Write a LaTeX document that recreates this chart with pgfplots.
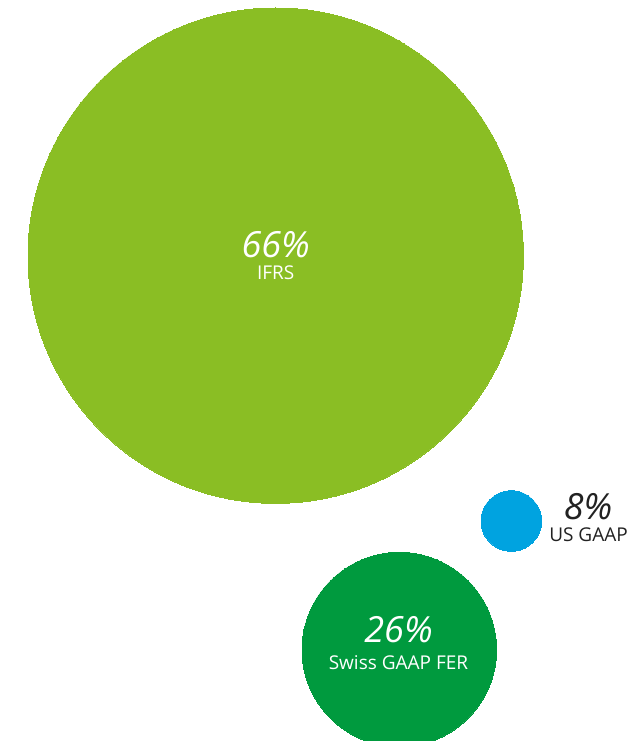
\documentclass[border=0pt]{standalone}
\usepackage{pgfplots}
\pgfplotsset{compat=1.18}
\usepackage{fontspec}
\setmainfont{Open Sans}
\definecolor{lgreen}{RGB}{138,190,36}
\definecolor{dgreen}{RGB}{0,154,62}
\definecolor{cblue}{RGB}{0,163,224}
\definecolor{dtext}{RGB}{34,34,34}
\begin{document}
\begin{tikzpicture}
\begin{axis}[
  width=644pt, height=741pt, scale only axis,
  xmin=0, xmax=644, ymin=0, ymax=741, y dir=reverse,
  hide axis, clip=true, clip marker paths=true,
  axis background/.style={fill=white},
]
% bubbles: x, y centre (px), radius set per series
\addplot[color=lgreen, only marks, mark=*, mark size=247.7pt, mark options={fill=lgreen, draw=lgreen, line width=0pt}] coordinates {(275.7,255.7)};
\addplot[color=cblue, only marks, mark=*, mark size=30.3pt, mark options={fill=cblue, draw=cblue, line width=0pt}] coordinates {(511.3,521)};
\addplot[color=dgreen, only marks, mark=*, mark size=97.3pt, mark options={fill=dgreen, draw=dgreen, line width=0pt}] coordinates {(399.3,649.6)};
\node[anchor=base, inner sep=0pt, text=white, font=\fontsize{36}{36}\selectfont\itshape] at (axis cs:275.7,257.7) {66\%};
\node[anchor=base, inner sep=0pt, text=white, font=\fontsize{19}{19}\selectfont] at (axis cs:275.7,279.3) {IFRS};
\node[anchor=base, inner sep=0pt, text=dtext, font=\fontsize{36}{36}\selectfont\itshape] at (axis cs:588,519) {8\%};
\node[anchor=base, inner sep=0pt, text=dtext, font=\fontsize{19}{19}\selectfont] at (axis cs:588.5,541) {US GAAP};
\node[anchor=base, inner sep=0pt, text=white, font=\fontsize{36}{36}\selectfont\itshape] at (axis cs:398.5,642) {26\%};
\node[anchor=base, inner sep=0pt, text=white, font=\fontsize{19}{19}\selectfont] at (axis cs:398.5,669) {Swiss GAAP FER};
\end{axis}
\end{tikzpicture}
\end{document}
